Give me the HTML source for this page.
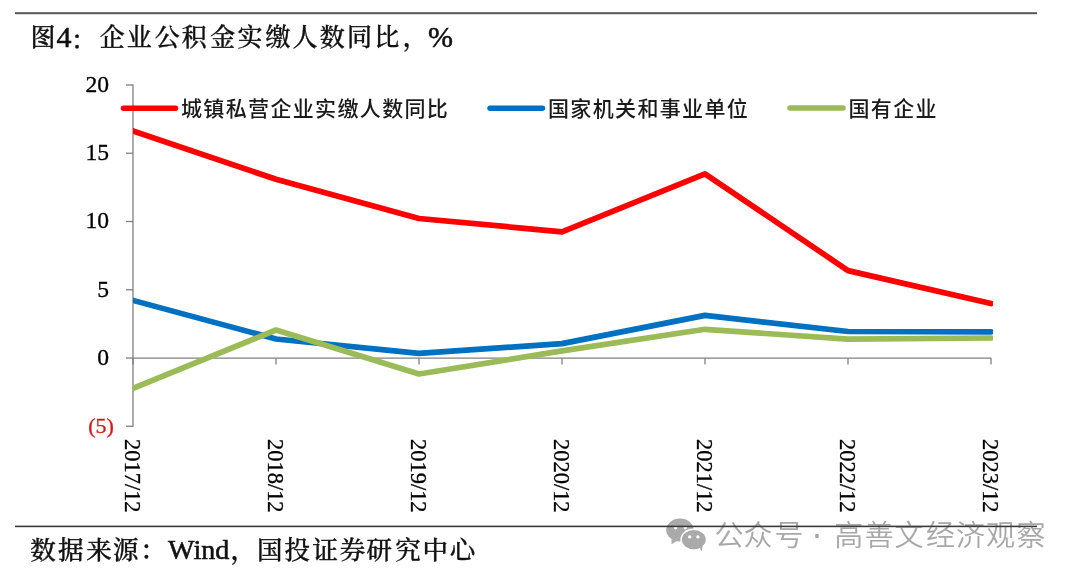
<!DOCTYPE html>
<html><head><meta charset="utf-8"><style>
html,body{margin:0;padding:0;background:#fff;width:1080px;height:579px;overflow:hidden}
svg{display:block}
.s{font-family:"Liberation Serif","Noto Serif CJK SC",serif}
.c{font-family:"Noto Serif CJK SC","Liberation Serif",serif;font-weight:500}
.t .s{stroke:#111;stroke-width:0.55px}
.t .c{stroke:#111;stroke-width:0.35px}
.h{font-family:"Liberation Sans","Noto Sans CJK SC",sans-serif}
</style></head><body>
<svg width="1080" height="579" viewBox="0 0 1080 579">

<defs><clipPath id="pc"><rect x="133" y="60" width="860" height="400"/></clipPath></defs>
<rect x="15" y="12.2" width="1022" height="2" fill="#555"/>
<text class="t" fill="#111"><tspan class="c" font-size="25" x="30.50" y="46.0">图</tspan><tspan class="s" font-size="30" x="56.60" y="46.6">4</tspan><tspan class="c" font-size="25" x="71.10" y="49.2">：</tspan><tspan class="c" font-size="25" x="99.75" y="46.0">企</tspan><tspan class="c" font-size="25" x="126.70" y="46.0">业</tspan><tspan class="c" font-size="25" x="154.75" y="46.0">公</tspan><tspan class="c" font-size="25" x="181.65" y="46.0">积</tspan><tspan class="c" font-size="25" x="210.30" y="46.0">金</tspan><tspan class="c" font-size="25" x="237.50" y="46.0">实</tspan><tspan class="c" font-size="25" x="265.60" y="46.0">缴</tspan><tspan class="c" font-size="25" x="292.50" y="46.0">人</tspan><tspan class="c" font-size="25" x="319.70" y="46.0">数</tspan><tspan class="c" font-size="25" x="347.00" y="46.0">同</tspan><tspan class="c" font-size="25" x="374.30" y="46.0">比</tspan><tspan class="c" font-size="25" x="402.65" y="46.0">，</tspan><tspan class="s" font-size="30" x="428.05" y="46.6">%</tspan></text>
<g stroke="#808080" stroke-width="1.3" fill="none">
<line x1="133" y1="84.5" x2="133" y2="426.75"/>
<line x1="126" y1="85.0" x2="133.1" y2="85.0"/>
<line x1="126" y1="153.25" x2="133.1" y2="153.25"/>
<line x1="126" y1="221.5" x2="133.1" y2="221.5"/>
<line x1="126" y1="289.75" x2="133.1" y2="289.75"/>
<line x1="126" y1="358.0" x2="133.1" y2="358.0"/>
<line x1="126" y1="426.25" x2="133.1" y2="426.25"/>
<line x1="132" y1="358.2" x2="991.4" y2="358.2"/>
<line x1="133" y1="358.2" x2="133" y2="364.5"/>
<line x1="276" y1="358.2" x2="276" y2="364.5"/>
<line x1="419" y1="358.2" x2="419" y2="364.5"/>
<line x1="562" y1="358.2" x2="562" y2="364.5"/>
<line x1="705" y1="358.2" x2="705" y2="364.5"/>
<line x1="848" y1="358.2" x2="848" y2="364.5"/>
<line x1="991" y1="358.2" x2="991" y2="364.5"/>
</g>
<text class="s" x="109.1" y="91.9" font-size="23.6" text-anchor="end" fill="#000" stroke="#000" stroke-width="0.3">20</text>
<text class="s" x="109.1" y="160.15" font-size="23.6" text-anchor="end" fill="#000" stroke="#000" stroke-width="0.3">15</text>
<text class="s" x="109.1" y="228.4" font-size="23.6" text-anchor="end" fill="#000" stroke="#000" stroke-width="0.3">10</text>
<text class="s" x="109.1" y="296.65" font-size="23.6" text-anchor="end" fill="#000" stroke="#000" stroke-width="0.3">5</text>
<text class="s" x="109.1" y="364.9" font-size="23.6" text-anchor="end" fill="#000" stroke="#000" stroke-width="0.3">0</text>
<text class="s" x="113.8" y="432.55" font-size="22" text-anchor="end" fill="#d91515" stroke="#d91515" stroke-width="0.3">(5)</text>
<text class="s" font-size="23" fill="#000" stroke="#000" stroke-width="0.3" textLength="73.6" lengthAdjust="spacingAndGlyphs" transform="translate(125,439.0) rotate(90)">2017/12</text>
<text class="s" font-size="23" fill="#000" stroke="#000" stroke-width="0.3" textLength="73.6" lengthAdjust="spacingAndGlyphs" transform="translate(268,439.0) rotate(90)">2018/12</text>
<text class="s" font-size="23" fill="#000" stroke="#000" stroke-width="0.3" textLength="73.6" lengthAdjust="spacingAndGlyphs" transform="translate(411,439.0) rotate(90)">2019/12</text>
<text class="s" font-size="23" fill="#000" stroke="#000" stroke-width="0.3" textLength="73.6" lengthAdjust="spacingAndGlyphs" transform="translate(554,439.0) rotate(90)">2020/12</text>
<text class="s" font-size="23" fill="#000" stroke="#000" stroke-width="0.3" textLength="73.6" lengthAdjust="spacingAndGlyphs" transform="translate(697,439.0) rotate(90)">2021/12</text>
<text class="s" font-size="23" fill="#000" stroke="#000" stroke-width="0.3" textLength="73.6" lengthAdjust="spacingAndGlyphs" transform="translate(840,439.0) rotate(90)">2022/12</text>
<text class="s" font-size="23" fill="#000" stroke="#000" stroke-width="0.3" textLength="73.6" lengthAdjust="spacingAndGlyphs" transform="translate(983,439.0) rotate(90)">2023/12</text>
<polyline points="133,131 276,179.3 419,218.5 562,231.8 705,173.8 848,270.6 991,303.5" fill="none" stroke="#ff0000" stroke-width="5.7" stroke-linejoin="round" stroke-linecap="round" clip-path="url(#pc)"/>
<polyline points="133,300.4 276,339.0 419,353.4 562,343.6 705,315.4 848,331.5 991,331.8" fill="none" stroke="#0070c0" stroke-width="5.7" stroke-linejoin="round" stroke-linecap="round" clip-path="url(#pc)"/>
<polyline points="133,388.4 276,330.0 419,374.0 562,350.9 705,329.3 848,339.2 991,338.0" fill="none" stroke="#9bbb59" stroke-width="5.7" stroke-linejoin="round" stroke-linecap="round" clip-path="url(#pc)"/>
<line x1="123.5" y1="108.3" x2="175.5" y2="108.3" stroke="#ff0000" stroke-width="5.5" stroke-linecap="round"/>
<text class="h" x="181" y="116.4" font-size="21" letter-spacing="1.35" font-weight="500" fill="#1a1a1a">城镇私营企业实缴人数同比</text>
<line x1="490" y1="108.3" x2="542.5" y2="108.3" stroke="#0070c0" stroke-width="5.5" stroke-linecap="round"/>
<text class="h" x="548" y="116.4" font-size="21" letter-spacing="1.35" font-weight="500" fill="#1a1a1a">国家机关和事业单位</text>
<line x1="790" y1="108.1" x2="843" y2="108.1" stroke="#9bbb59" stroke-width="5.5" stroke-linecap="round"/>
<text class="h" x="848.5" y="116.4" font-size="21" letter-spacing="1.35" font-weight="500" fill="#1a1a1a">国有企业</text>
<g fill="#aaaaaa">
<ellipse cx="680" cy="530" rx="13.8" ry="11.4"/>
<path d="M671.5 539 L671.5 544.3 L677 541 Z"/>
<ellipse cx="693.8" cy="539.6" rx="13.4" ry="11" fill="#fff"/>
<ellipse cx="693.8" cy="539.6" rx="11.9" ry="9.6"/>
<path d="M699 547 L701.8 551.5 L702.5 546 Z"/>
</g>
<g fill="#fff"><circle cx="675.6" cy="527.6" r="1.8"/><circle cx="685.3" cy="527.6" r="1.8"/>
<circle cx="689.7" cy="536.9" r="1.7"/><circle cx="697.9" cy="536.9" r="1.7"/></g>
<text class="h" font-size="29" font-weight="350" fill="#a8a8a8"><tspan x="714.40" y="545.8">公</tspan><tspan x="743.50" y="545.8">众</tspan><tspan x="774.40" y="545.8">号</tspan><tspan x="811" y="545.8" font-size="36">·</tspan><tspan x="834.35" y="545.8">高</tspan><tspan x="864.75" y="545.8">善</tspan><tspan x="894.55" y="545.8">文</tspan><tspan x="926.10" y="545.8">经</tspan><tspan x="956.05" y="545.8">济</tspan><tspan x="986.05" y="545.8">观</tspan><tspan x="1016.45" y="545.8">察</tspan></text>
<rect x="15" y="525.6" width="1022" height="1.6" fill="#3a3a3a"/>
<text class="t" fill="#111"><tspan class="c" font-size="25.5" x="30.35" y="559.0">数</tspan><tspan class="c" font-size="25.5" x="58.05" y="559.0">据</tspan><tspan class="c" font-size="25.5" x="86.15" y="559.0">来</tspan><tspan class="c" font-size="25.5" x="113.05" y="559.0">源</tspan><tspan class="c" font-size="25.5" x="140.35" y="559.0">：</tspan><tspan class="s" font-size="28" x="168.10" y="559.4">Wind</tspan><tspan class="c" font-size="25.5" x="230.50" y="559.0">，</tspan><tspan class="c" font-size="25.5" x="257.00" y="559.0">国</tspan><tspan class="c" font-size="25.5" x="284.50" y="559.0">投</tspan><tspan class="c" font-size="25.5" x="312.50" y="559.0">证</tspan><tspan class="c" font-size="25.5" x="339.75" y="559.0">券</tspan><tspan class="c" font-size="25.5" x="366.45" y="559.0">研</tspan><tspan class="c" font-size="25.5" x="395.35" y="559.0">究</tspan><tspan class="c" font-size="25.5" x="422.55" y="559.0">中</tspan><tspan class="c" font-size="25.5" x="449.75" y="559.0">心</tspan></text>
</svg></body></html>
